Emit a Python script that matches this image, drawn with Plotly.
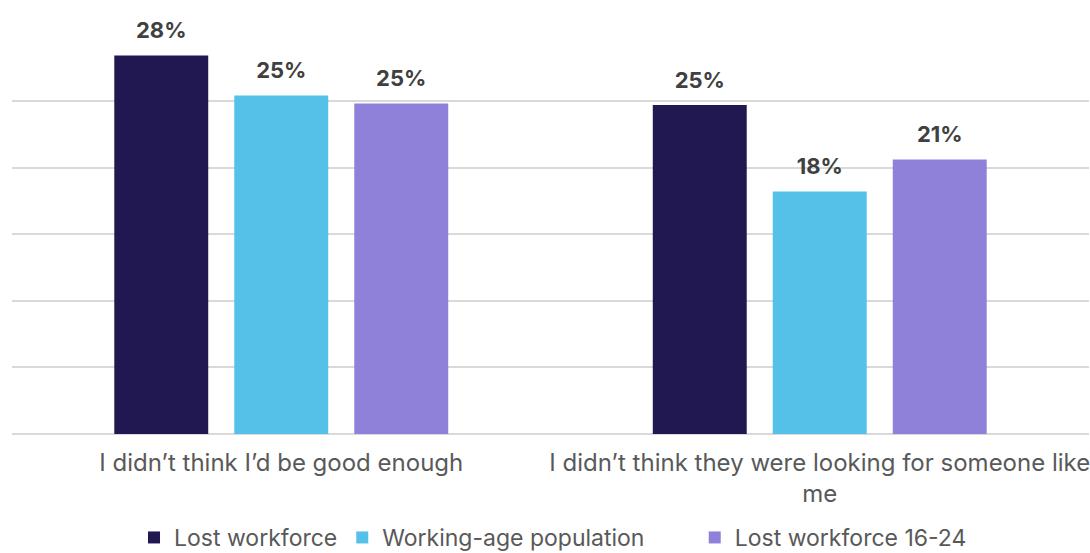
import plotly.graph_objects as go

# Survey responses, share of respondents (%)
categories = [
    "I didn\u2019t think I\u2019d be good enough",
    "I didn\u2019t think they were looking for someone like<br>me",
]
series_names = ["Lost workforce", "Working-age population", "Lost workforce 16-24"]
lost_workforce = [28.4, 24.7]
working_age = [25.4, 18.2]
lost_workforce_16_24 = [24.8, 20.6]
series_values = [lost_workforce, working_age, lost_workforce_16_24]
colors = ["#211851", "#55C1E8", "#8F80DA"]
# extra trailing room after each legend entry
legend_pad = ["", "\u00a0" * 7, ""]

FONT = "Inter, Liberation Sans, Arial, sans-serif"

fig = go.Figure()
for name, vals, col, pad in zip(series_names, series_values, colors, legend_pad):
    fig.add_trace(go.Bar(
        x=categories,
        y=vals,
        name=name + pad,
        marker=dict(color=col, line=dict(width=0)),
        # value label, with a small spacer line underneath to lift it off the bar
        texttemplate="<span style='font-size:22px'>%{y:.0f}%</span><br>\u00a0",
        textposition="outside",
        textfont=dict(family=FONT, size=9.5, color="#404040", weight="bold"),
        cliponaxis=False,
    ))

fig.update_layout(
    width=1090,
    height=553,
    margin=dict(l=12, r=1, t=34, b=119, autoexpand=False),
    paper_bgcolor="white",
    plot_bgcolor="white",
    barmode="group",
    bargap=0.3315,
    bargroupgap=0.217,
    font=dict(family=FONT, color="#595959"),
    xaxis=dict(
        showgrid=False,
        showline=False,
        ticks="",
        automargin=False,
        ticklabelstandoff=12,
        tickfont=dict(size=24, color="#595959"),
    ),
    yaxis=dict(
        range=[0, 30.02],
        dtick=5,
        showticklabels=False,
        showgrid=True,
        gridcolor="#D9D9D9",
        gridwidth=1.5,
        zeroline=True,
        zerolinecolor="#D9D9D9",
        zerolinewidth=1.5,
        automargin=False,
    ),
    legend=dict(
        orientation="h",
        x=0.1133,
        xanchor="left",
        y=-0.205,
        yanchor="top",
        font=dict(size=23, color="#595959"),
        itemwidth=30,
        traceorder="normal",
    ),
    showlegend=True,
)

fig.write_html("out.html")
